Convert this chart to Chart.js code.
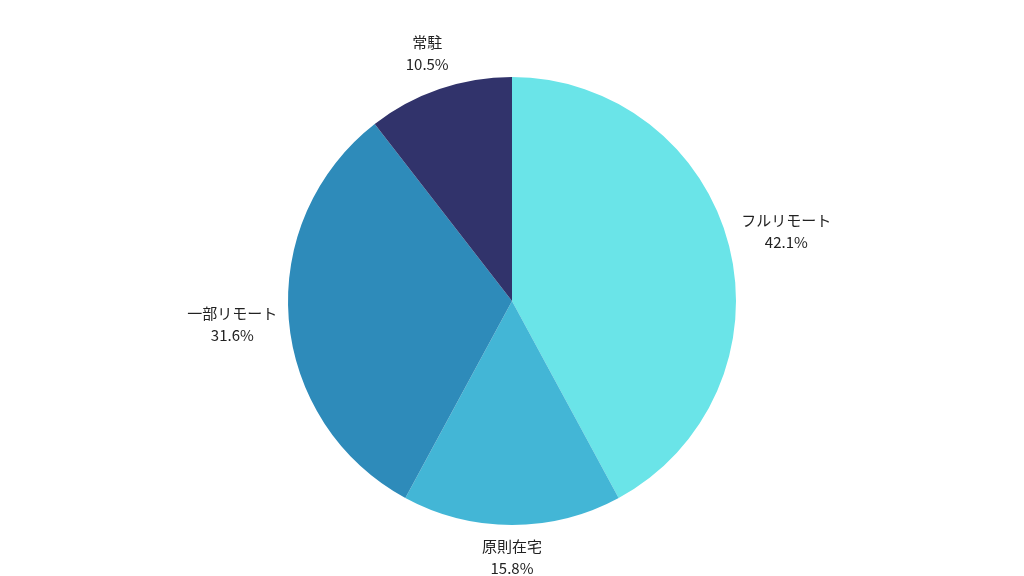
<!DOCTYPE html>
<html><head><meta charset="utf-8">
<script src="https://cdn.jsdelivr.net/npm/chart.js@4"></script>
<style>html,body{margin:0;background:#fff}#wrap{width:1024px;height:576px}</style>
</head><body><div id="wrap"><canvas id="c"></canvas></div>
<script>
const categories = ['フルリモート', '原則在宅', '一部リモート', '常駐'];
const shares = [42.1, 15.8, 31.6, 10.5];
const colors = ['#6ae4e8', '#43b6d6', '#2e8bba', '#31336b'];

// labels outside each slice: name on top, percentage below
const outsideLabels = {
  id: 'outsideLabels',
  afterDraw(chart) {
    const ctx = chart.ctx;
    const meta = chart.getDatasetMeta(0);
    ctx.save();
    ctx.font = '15px "Noto Sans CJK JP", "Noto Sans", sans-serif';
    ctx.fillStyle = '#222';
    ctx.textAlign = 'center';
    ctx.textBaseline = 'middle';
    meta.data.forEach((arc, i) => {
      const p = arc.getProps(['x', 'y', 'startAngle', 'endAngle', 'outerRadius']);
      const a = (p.startAngle + p.endAngle) / 2;
      const t1 = categories[i], t2 = shares[i].toFixed(1) + '%';
      const w = Math.max(ctx.measureText(t1).width, ctx.measureText(t2).width);
      const h = 44;
      const r = p.outerRadius + 10 + (w / 2) * Math.abs(Math.cos(a)) + (h / 2) * Math.abs(Math.sin(a));
      const x = p.x + r * Math.cos(a), y = p.y + r * Math.sin(a);
      ctx.fillText(t1, x, y - 11);
      ctx.fillText(t2, x, y + 11);
    });
    ctx.restore();
  }
};

new Chart(document.getElementById('c'), {
  type: 'pie',
  data: {
    labels: categories,
    datasets: [{ data: shares, backgroundColor: colors, borderWidth: 0 }]
  },
  options: {
    responsive: true,
    maintainAspectRatio: false,
    animation: false,
    radius: 224,
    layout: { padding: { top: 76, bottom: 50 } },
    plugins: { legend: { display: false }, tooltip: { enabled: false } }
  },
  plugins: [outsideLabels]
});
</script></body></html>
